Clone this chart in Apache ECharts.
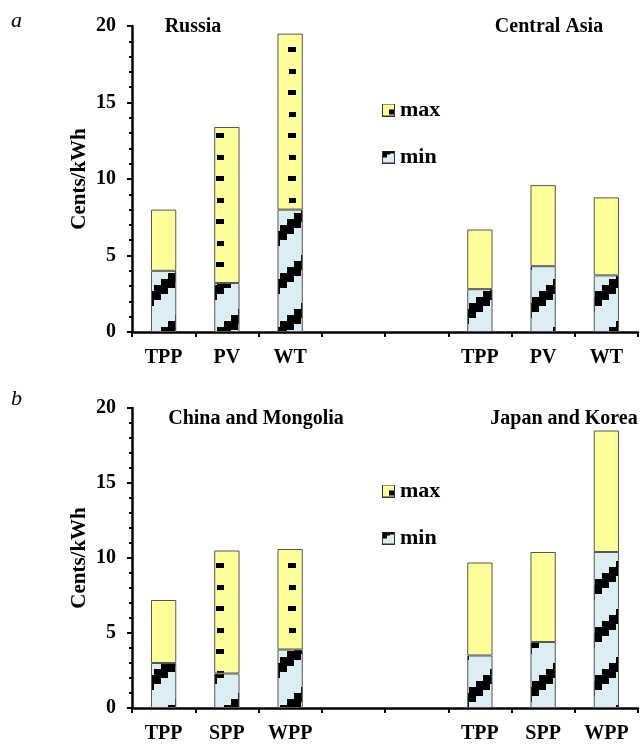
<!DOCTYPE html>
<html>
<head>
<meta charset="utf-8">
<script src="https://cdn.jsdelivr.net/npm/echarts@6/dist/echarts.min.js"></script>
<style>
html,body{margin:0;padding:0;background:#fff;}
#chart{width:641px;height:744px;}
</style>
</head>
<body>
<div id="chart"></div>
<script>
// ---- Data ----
const categoriesA = ['TPP', 'PV', 'WT', '', '', 'TPP', 'PV', 'WT'];
const minA = [4.0, 3.2, 8.0, null, null, 2.8, 4.3, 3.7];
const maxA = [8.0, 13.4, 19.5, null, null, 6.7, 9.6, 8.8];

const categoriesB = ['TPP', 'SPP', 'WPP', '', '', 'TPP', 'SPP', 'WPP'];
const minB = [3.0, 2.3, 3.9, null, null, 3.5, 4.4, 10.4];
const maxB = [7.2, 10.5, 10.6, null, null, 9.7, 10.4, 18.5];

const regionTitles = ['Russia', 'Central Asia', 'China and Mongolia', 'Japan and Korea'];
const panelLetters = ['a', 'b'];
const seriesNames = ['max', 'min'];
const yAxisName = 'Cents/kWh';

// ---- Patterns ----
const BLUE = '#dbeef3';
const YELLOW = '#ffff99';
function makeMinPattern() {
  const c = document.createElement('canvas');
  c.width = 56; c.height = 48;
  const g = c.getContext('2d');
  g.fillStyle = BLUE; g.fillRect(0, 0, 56, 48);
  g.fillStyle = '#000';
  for (let i = 0; i < 8; i++) {
    const x = 7 * i;
    const yt = 48 - 6 * i - 15;
    for (const off of [-48, 0, 48]) g.fillRect(x, yt + off, 7, 15);
  }
  return c;
}
function makeMaxPattern() {
  const c = document.createElement('canvas');
  c.width = 72; c.height = 43;
  const g = c.getContext('2d');
  g.fillStyle = YELLOW; g.fillRect(0, 0, 72, 43);
  g.fillStyle = '#000';
  g.fillRect(0, 4, 8, 5);
  g.fillRect(1, 26, 7, 5);
  return c;
}
function makeIcon(kind) {
  const c = document.createElement('canvas');
  c.width = 13; c.height = 13;
  const g = c.getContext('2d');
  g.fillStyle = kind === 'max' ? YELLOW : BLUE;
  g.fillRect(0, 0, 13, 13);
  g.fillStyle = '#000';
  if (kind === 'max') {
    g.fillRect(7, 6, 5, 5);
  } else {
    g.fillRect(1, 1, 7, 3);
    g.fillRect(1, 4, 4, 3);
    g.fillRect(8, 1, 4, 2);
  }
  g.strokeStyle = '#333'; g.lineWidth = 1;
  g.strokeRect(0.5, 0.5, 12, 12);
  return 'image://' + c.toDataURL();
}
const minFill = { image: makeMinPattern(), repeat: 'repeat' };
const maxFill = { image: makeMaxPattern(), repeat: 'repeat' };
const iconMax = makeIcon('max');
const iconMin = makeIcon('min');

const FONT = "'Liberation Serif', 'Times New Roman', serif";

function diff(maxArr, minArr) {
  return maxArr.map((v, i) => (v == null ? null : +(v - minArr[i]).toFixed(3)));
}

function xAxisCfg(idx, cats) {
  return {
    type: 'category', gridIndex: idx, data: cats,
    axisLine: { lineStyle: { color: '#000', width: 2.5 } },
    axisTick: { show: true, length: 5, inside: false, lineStyle: { color: '#000', width: 2 } },
    axisLabel: { color: '#000', fontFamily: FONT, fontWeight: 'bold', fontSize: 20, margin: 16, interval: 0 },
    splitLine: { show: false }
  };
}
function yAxisCfg(idx) {
  return {
    type: 'value', gridIndex: idx, min: 0, max: 20, interval: 5,
    name: yAxisName, nameLocation: 'middle', nameRotate: 90, nameGap: 42,
    nameMoveOverlap: false,
    nameTextStyle: { color: '#000', fontFamily: FONT, fontWeight: 'bold', fontSize: 21 },
    axisLine: { show: true, lineStyle: { color: '#000', width: 2.5 } },
    axisTick: { show: true, length: 5, inside: false, lineStyle: { color: '#000', width: 2 } },
    minorTick: { show: true, splitNumber: 5, length: 3, lineStyle: { color: '#000', width: 2 } },
    axisLabel: { color: '#000', fontFamily: FONT, fontWeight: 'bold', fontSize: 20, margin: 16 },
    splitLine: { show: false }
  };
}
function barSeries(name, stack, idx, data, fill) {
  return {
    name, type: 'bar', stack, xAxisIndex: idx, yAxisIndex: idx, data,
    barWidth: '40%',
    itemStyle: { color: fill, borderColor: '#555', borderWidth: 1 },
    emphasis: { disabled: true }
  };
}
function legendCfg(top) {
  return {
    orient: 'vertical', left: 377, top,
    itemWidth: 13, itemHeight: 13, itemGap: 25,
    selectedMode: false,
    data: [{ name: seriesNames[0], icon: iconMax }, { name: seriesNames[1], icon: iconMin }],
    textStyle: { color: '#000', fontFamily: FONT, fontWeight: 'bold', fontSize: 22, lineHeight: 20 }
  };
}
function txt(x, y, text, size, style, align) {
  return {
    type: 'text', x, y,
    style: { text, fill: '#000', font: `${style} ${size}px ${FONT}`, textAlign: align || 'center', textVerticalAlign: 'top' }
  };
}

const chart = echarts.init(document.getElementById('chart'), null, { renderer: 'canvas' });
chart.setOption({
  animation: false,
  backgroundColor: '#fff',
  grid: [
    { left: 132, right: 3, top: 26, height: 306 },
    { left: 132, right: 3, top: 408, height: 305 }
  ],
  xAxis: [xAxisCfg(0, categoriesA), xAxisCfg(1, categoriesB)],
  yAxis: [yAxisCfg(0), yAxisCfg(1)],
  legend: [legendCfg(94), legendCfg(475)],
  series: [
    barSeries(seriesNames[1], 'a', 0, minA, minFill),
    barSeries(seriesNames[0], 'a', 0, diff(maxA, minA), maxFill),
    barSeries(seriesNames[1], 'b', 1, minB, minFill),
    barSeries(seriesNames[0], 'b', 1, diff(maxB, minB), maxFill)
  ],
  graphic: [
    txt(193, 17, regionTitles[0], 20, 'bold'),
    txt(549, 17, regionTitles[1], 20, 'bold'),
    txt(256, 409, regionTitles[2], 20, 'bold'),
    txt(564, 409, regionTitles[3], 20, 'bold'),
    txt(11, 10, panelLetters[0], 22, 'italic', 'left'),
    txt(11, 388, panelLetters[1], 22, 'italic', 'left')
  ]
});
</script>
</body>
</html>
